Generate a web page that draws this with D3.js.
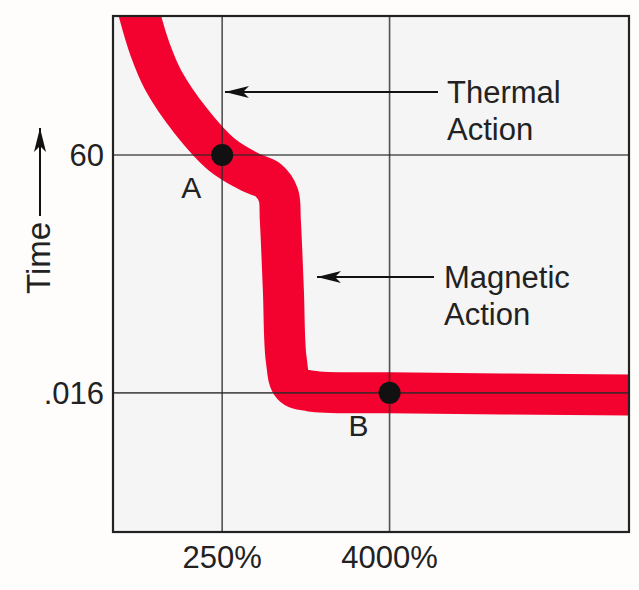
<!DOCTYPE html>
<html>
<head>
<meta charset="utf-8">
<script src="https://cdn.jsdelivr.net/npm/d3@7"></script>
<style>
  body { margin: 0; background: #fefdfc; }
  text { font-family: "Liberation Sans", Arial, sans-serif; fill: #222; }
</style>
</head>
<body>
<script>
// trip curve centre line: [current %, time s]
const curvePct  = [60, 64, 76, 94, 147, 250, 398, 537, 634, 655, 689, 723, 800, 1077, 4000, 220000];
const curveTime = [12740, 7330, 2264, 802, 201, 60, 33, 25, 15, 6.3, 0.56, 0.05, 0.021, 0.0171, 0.016, 0.0149];

const xTicks = [250, 4000];
const xTickLabels = ["250%", "4000%"];
const yTicks = [60, 0.016];
const yTickLabels = ["60", ".016"];

const points = [
  { name: "A", pct: 250, time: 60 },
  { name: "B", pct: 4000, time: 0.016 }
];

const w = 639, h = 590;
const plotL = 113, plotR = 629, plotT = 16, plotB = 532;

const x = d3.scaleLog().domain([41, 211000]).range([plotL, plotR]);
const y = d3.scaleLog().domain([0.00013, 7330]).range([plotB, plotT]);

const svg = d3.select("body")
  .append("svg")
  .attr("width", w)
  .attr("height", h);

const defs = svg.append("defs");
defs.append("clipPath").attr("id", "plot-clip")
  .append("rect")
  .attr("x", plotL).attr("y", plotT)
  .attr("width", plotR - plotL).attr("height", plotB - plotT);

defs.append("marker")
  .attr("id", "arrow")
  .attr("viewBox", "0 0 10 10")
  .attr("preserveAspectRatio", "none")
  .attr("refX", 10).attr("refY", 5)
  .attr("markerWidth", 24).attr("markerHeight", 12)
  .attr("markerUnits", "userSpaceOnUse")
  .attr("orient", "auto")
  .append("path")
  .attr("d", "M0,0 L10,5 L0,10 L2.5,5 Z")
  .attr("fill", "#111");

svg.append("rect")
  .attr("x", plotL).attr("y", plotT)
  .attr("width", plotR - plotL).attr("height", plotB - plotT)
  .attr("fill", "#f5f5f6");

// red band
const curveData = curvePct.map((p, i) => [p, curveTime[i]]);
const line = d3.line()
  .x(d => x(d[0]))
  .y(d => y(d[1]))
  .curve(d3.curveCatmullRom.alpha(0.5));

svg.append("path")
  .datum(curveData)
  .attr("clip-path", "url(#plot-clip)")
  .attr("d", line)
  .attr("fill", "none")
  .attr("stroke", "#f4022f")
  .attr("stroke-width", 41)
  .attr("stroke-linejoin", "round");

// grid, drawn over the band
svg.selectAll(".vgrid")
  .data(xTicks)
  .enter()
  .append("line")
  .attr("x1", d => x(d)).attr("x2", d => x(d))
  .attr("y1", plotT).attr("y2", plotB)
  .attr("stroke", "#2a2a2a").attr("stroke-width", 1.6).attr("opacity", 0.8);

svg.selectAll(".hgrid")
  .data(yTicks)
  .enter()
  .append("line")
  .attr("x1", plotL).attr("x2", plotR)
  .attr("y1", d => y(d)).attr("y2", d => y(d))
  .attr("stroke", "#2a2a2a").attr("stroke-width", 1.6).attr("opacity", 0.8);

// frame
svg.append("rect")
  .attr("x", plotL).attr("y", plotT)
  .attr("width", plotR - plotL).attr("height", plotB - plotT)
  .attr("fill", "none")
  .attr("stroke", "#222").attr("stroke-width", 2.2);

// points
svg.selectAll(".pt")
  .data(points)
  .enter()
  .append("circle")
  .attr("cx", d => x(d.pct))
  .attr("cy", d => y(d.time))
  .attr("r", 11)
  .attr("fill", "#111");

svg.selectAll(".ptlabel")
  .data(points)
  .enter()
  .append("text")
  .attr("x", d => x(d.pct) - 31)
  .attr("y", d => y(d.time) + 43)
  .attr("text-anchor", "middle")
  .attr("font-size", 30)
  .text(d => d.name);

// tick labels
svg.selectAll(".xlab")
  .data(xTicks)
  .enter()
  .append("text")
  .attr("x", d => x(d))
  .attr("y", 568)
  .attr("text-anchor", "middle")
  .attr("font-size", 31)
  .text((d, i) => xTickLabels[i]);

svg.selectAll(".ylab")
  .data(yTicks)
  .enter()
  .append("text")
  .attr("x", 104)
  .attr("y", d => y(d) + 11)
  .attr("text-anchor", "end")
  .attr("font-size", 31)
  .text((d, i) => yTickLabels[i]);

// axis title
svg.append("text")
  .attr("transform", "translate(50,258) rotate(-90)")
  .attr("text-anchor", "middle")
  .attr("font-size", 33)
  .text("Time");

svg.append("line")
  .attr("x1", 40).attr("y1", 216)
  .attr("x2", 40).attr("y2", 128)
  .attr("stroke", "#111").attr("stroke-width", 2)
  .attr("marker-end", "url(#arrow)");

// annotations
const notes = [
  { lines: ["Thermal", "Action"], tx: 447, ty: 103, ax1: 438, ax2: 225, ay: 92 },
  { lines: ["Magnetic", "Action"], tx: 444, ty: 288, ax1: 434, ax2: 317, ay: 277 }
];

notes.forEach(n => {
  svg.append("line")
    .attr("x1", n.ax1).attr("x2", n.ax2)
    .attr("y1", n.ay).attr("y2", n.ay)
    .attr("stroke", "#111").attr("stroke-width", 2)
    .attr("marker-end", "url(#arrow)");
  n.lines.forEach((t, i) => {
    svg.append("text")
      .attr("x", n.tx)
      .attr("y", n.ty + i * 37)
      .attr("font-size", 31)
      .text(t);
  });
});
</script>
</body>
</html>
